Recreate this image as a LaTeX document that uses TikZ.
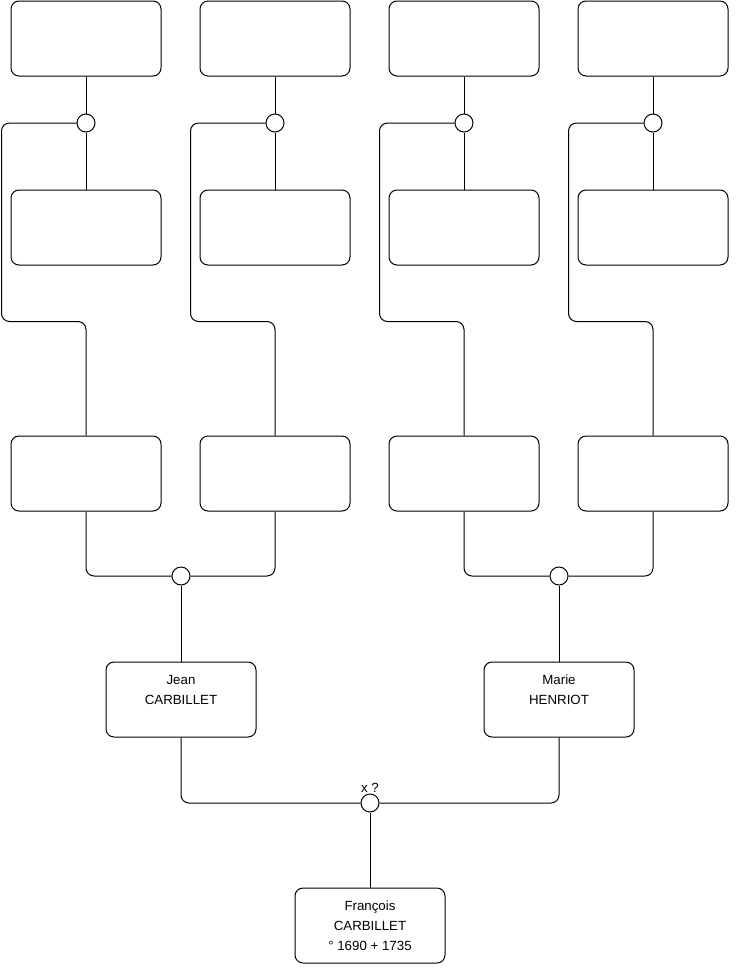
\documentclass[tikz,border=0pt]{standalone}
\usepackage{fontspec}
\setmainfont{Liberation Sans}
\usetikzlibrary{positioning}

\tikzset{
  person/.style={draw, rounded corners=8pt, minimum width=150pt,
    minimum height=75pt, align=center, line width=1pt},
  union/.style={draw, circle, minimum size=18pt, inner sep=0pt,
    fill=white, line width=1pt},
  link/.style={line width=1pt, rounded corners=8pt}
}

\begin{document}
\begin{tikzpicture}[x=1pt, y=-1pt,
    every node/.style={font=\fontsize{13.3}{20}\selectfont}]
  % page frame, pixel coordinates with y going down
  \useasboundingbox (0,0) rectangle (740,975);

  % four empty couples on top
  \foreach \i/\x in {1/86, 2/275, 3/464, 4/653} {
    \node[person] (top\i) at (\x,38.5) {};
    \node[union] (u\i) at (\x,123) {};
    \node[person] (mid\i) at (\x,227.5) {};
    \node[person] (gp\i) at (\x,473.5) {};
    \draw[link] (top\i.south) -- (u\i.north);
    \draw[link] (u\i.south) -- (mid\i.north);
    \draw[link] (u\i.west) -| ([xshift=-9pt]mid\i.south west)
      |- ([yshift=-56pt]mid\i.south) -- (gp\i.north);
  }

  % parents
  \node[union] (uJ) at (181,576) {};
  \node[union] (uM) at (559,576) {};
  \node[person] (jean) at (181,699.5) {Jean\\CARBILLET\\~};
  \node[person] (marie) at (559,699.5) {Marie\\HENRIOT\\~};
  \draw[link] (gp1.south) |- (uJ.west);
  \draw[link] (gp2.south) |- (uJ.east);
  \draw[link] (uJ.south) -- (jean.north);
  \draw[link] (gp3.south) |- (uM.west);
  \draw[link] (gp4.south) |- (uM.east);
  \draw[link] (uM.south) -- (marie.north);

  % child
  \node[union, label={[inner sep=1pt]above:x ?}] (uF) at (370,803) {};
  \node[person] (francois) at (370,925.5) {François\\CARBILLET\\° 1690 + 1735};
  \draw[link] (jean.south) |- (uF.west);
  \draw[link] (marie.south) |- (uF.east);
  \draw[link] (uF.south) -- (francois.north);
\end{tikzpicture}
\end{document}
